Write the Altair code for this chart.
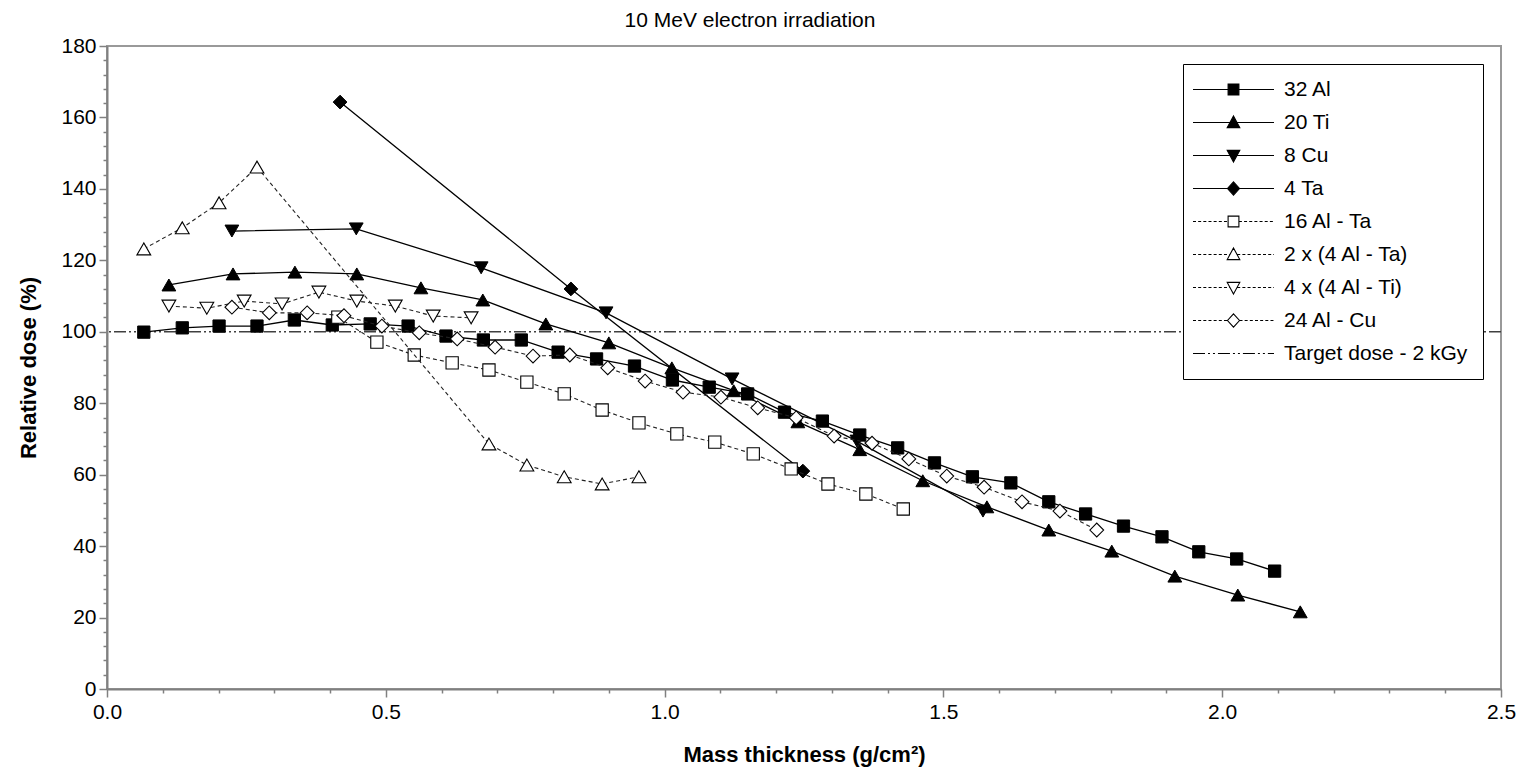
import altair as alt
import pandas as pd

# ---------------- data ----------------
names = ["32 Al", "20 Ti", "8 Cu", "4 Ta", "16 Al - Ta",
         "2 x (4 Al - Ta)", "4 x (4 Al - Ti)", "24 Al - Cu"]
target_label = "Target dose - 2 kGy"
target_dose = [100]

al32_x = [0.066, 0.135, 0.201, 0.269, 0.336, 0.404, 0.472, 0.540, 0.608, 0.675,
          0.743, 0.809, 0.878, 0.946, 1.014, 1.080, 1.149, 1.215, 1.283, 1.350,
          1.418, 1.484, 1.552, 1.621, 1.689, 1.755, 1.823, 1.892, 1.958, 2.026, 2.094]
al32_y = [99.9, 101.1, 101.6, 101.6, 103.3, 101.9, 102.2, 101.6, 98.8, 97.7,
          97.7, 94.3, 92.4, 90.4, 86.5, 84.5, 82.6, 77.5, 75.0, 71.1,
          67.5, 63.3, 59.4, 57.7, 52.4, 49.0, 45.6, 42.6, 38.4, 36.4, 33.0]

ti20_x = [0.111, 0.226, 0.337, 0.448, 0.563, 0.674, 0.787, 0.900, 1.013, 1.124,
          1.239, 1.350, 1.463, 1.578, 1.689, 1.802, 1.915, 2.028, 2.140]
ti20_y = [113.1, 116.2, 116.7, 116.2, 112.3, 108.9, 102.2, 96.9, 89.9, 83.5,
          74.8, 67.0, 58.3, 51.0, 44.5, 38.6, 31.6, 26.3, 21.6]

cu8_x = [0.224, 0.447, 0.671, 0.895, 1.121, 1.345, 1.571]
cu8_y = [128.2, 128.8, 117.9, 105.3, 86.8, 69.4, 49.8]

ta4_x = [0.418, 0.832, 1.248]
ta4_y = [164.3, 112.0, 61.0]

alta16_x = [0.414, 0.484, 0.551, 0.619, 0.685, 0.753, 0.820, 0.888, 0.954, 1.022,
            1.090, 1.159, 1.227, 1.293, 1.361, 1.428]
alta16_y = [104.1, 97.1, 93.5, 91.3, 89.3, 85.9, 82.6, 78.1, 74.5, 71.4,
            69.1, 65.8, 61.6, 57.4, 54.6, 50.4]

alta2x4_x = [0.066, 0.135, 0.201, 0.269, 0.685, 0.753, 0.820, 0.888, 0.954]
alta2x4_y = [123.2, 129.1, 136.1, 146.1, 68.6, 62.7, 59.4, 57.4, 59.4]

alti4x4_x = [0.111, 0.179, 0.246, 0.314, 0.380, 0.448, 0.517, 0.585, 0.653]
alti4x4_y = [107.2, 106.6, 108.6, 107.8, 111.1, 108.6, 107.2, 104.4, 103.9]

alcu24_x = [0.224, 0.291, 0.359, 0.425, 0.493, 0.560, 0.628, 0.696, 0.764, 0.830,
            0.898, 0.965, 1.033, 1.101, 1.167, 1.236, 1.304, 1.372, 1.438, 1.506,
            1.573, 1.641, 1.709, 1.775]
alcu24_y = [106.9, 105.3, 105.3, 104.5, 101.6, 99.7, 98.0, 95.7, 93.2, 93.5,
            89.9, 86.2, 83.1, 81.7, 78.7, 75.9, 70.8, 68.8, 64.4, 59.6,
            56.5, 52.4, 49.8, 44.5]

series_xy = [(al32_x, al32_y), (ti20_x, ti20_y), (cu8_x, cu8_y), (ta4_x, ta4_y),
             (alta16_x, alta16_y), (alta2x4_x, alta2x4_y), (alti4x4_x, alti4x4_y),
             (alcu24_x, alcu24_y)]

rows = []
for name, (xs, ys) in zip(names, series_xy):
    for i, (xv, yv) in enumerate(zip(xs, ys)):
        rows.append({"series": name, "x": xv, "y": yv, "idx": i})
df = pd.DataFrame(rows)

# ---------------- styles ----------------
FONT = "Liberation Sans, Arial, Helvetica, sans-serif"
shapes = ["square", "triangle-up", "triangle-down", "diamond",
          "square", "triangle-up", "triangle-down", "diamond"]
filled = [True, True, True, True, False, False, False, False]
sizes = {"square": 150, "triangle-up": 190, "triangle-down": 190, "diamond": 190}

x_minor = [round(i * 0.1, 1) for i in range(0, 26)]
y_minor = list(range(0, 181, 4))

x_axis = alt.Axis(values=x_minor, title="Mass thickness (g/cm²)",
                  labelExpr="round(datum.value*10) % 5 == 0 ? format(datum.value, '.1f') : ''",
                  tickSize={"condition": {"test": "round(datum.value*10) % 5 == 0", "value": 8}, "value": 4},
                  labelPadding=4, titlePadding=22)
y_axis = alt.Axis(values=y_minor, title="Relative dose (%)",
                  labelExpr="datum.value % 20 == 0 ? datum.value : ''",
                  tickSize={"condition": {"test": "datum.value % 20 == 0", "value": 8}, "value": 4},
                  labelPadding=3, titlePadding=20)
x_scale = alt.Scale(domain=[0, 2.5], nice=False, zero=False)
y_scale = alt.Scale(domain=[0, 180], nice=False)

x_enc = alt.X("x:Q", scale=x_scale, axis=x_axis)
y_enc = alt.Y("y:Q", scale=y_scale, axis=y_axis)

# legend symbol paths (unit = sqrt(symbolSize)/2 px)
marker_paths = {
    "square": ("M-0.9,-0.9H0.9V0.9H-0.9Z", 0.9),
    "triangle-up": ("M0,-1.1L1.05,0.85H-1.05Z", 0.62),
    "triangle-down": ("M0,1.1L1.05,-0.85H-1.05Z", 0.62),
    "diamond": ("M0,-1.1L1,0L0,1.1L-1,0Z", 1.0),
}
L = 6.75


def dashed(a, b, dash=0.5, gap=0.36):
    out = []
    p = a
    while p < b:
        q = min(p + dash, b)
        out.append("M%.3f,0H%.3f" % (p, q))
        p = q + gap
    return "".join(out)


legend_paths = []
for shp, fl in zip(shapes, filled):
    mp, hw = marker_paths[shp]
    if fl:
        legend_paths.append("M-%.2f,0H%.2f" % (L, L) + mp)
    else:
        legend_paths.append(dashed(-L, -hw) + dashed(hw, L) + mp)

# dash-dot-dot line for the target legend entry
tp = []
p = -L
pattern = [2.0, 0.5, 0.33, 0.5, 0.33, 0.5]
k = 0
while p < L:
    seg = pattern[k % 6]
    if k % 2 == 0:
        tp.append("M%.3f,0H%.3f" % (p, min(p + seg, L)))
    p += seg
    k += 1
legend_paths.append("".join(tp))

legend_names = names + [target_label]
legend_fills = ["black" if f else "white" for f in filled] + ["white"]

leg = alt.Legend(title=None, orient="none", legendX=1076, legendY=18,
                 padding=15, symbolOffset=25, labelOffset=40, rowPadding=11,
                 symbolSize=144, symbolStrokeWidth=1.1, symbolStrokeColor="black",
                 labelFontSize=21, labelFont=FONT, labelColor="black", labelLimit=400,
                 strokeColor="black", fillColor="white")

layers = []
# target dose rule
layers.append(
    alt.Chart(pd.DataFrame({"y": target_dose}))
    .mark_rule(color="#404040", strokeWidth=1.4, strokeDash=[12, 3, 2, 3, 2, 3])
    .encode(y=y_enc)
)

for name, shp, fl in zip(names, shapes, filled):
    base = alt.Chart(df).transform_filter(alt.datum.series == name)
    if fl:
        line = base.mark_line(color="black", strokeWidth=1.3)
        pt = base.mark_point(shape=shp, filled=True, fill="black", stroke="black",
                             strokeWidth=1, size=sizes[shp], opacity=1)
    else:
        line = base.mark_line(color="#222222", strokeWidth=1.1, strokeDash=[4, 3])
        pt = base.mark_point(shape=shp, filled=True, fill="white", stroke="black",
                             strokeWidth=1.1, size=sizes[shp], opacity=1)
    layers.append(line.encode(x=x_enc, y=y_enc, order="idx:Q"))
    layers.append(pt.encode(x=x_enc, y=y_enc))

# legend-only layer (no rows drawn)
layers.append(
    alt.Chart(df).transform_filter("datum.x < 0")
    .mark_point(filled=True, strokeWidth=1.1, size=144, opacity=1)
    .encode(x=x_enc, y=y_enc,
            shape=alt.Shape("series:N", scale=alt.Scale(domain=legend_names, range=legend_paths), legend=leg),
            fill=alt.Fill("series:N", scale=alt.Scale(domain=legend_names, range=legend_fills), legend=leg),
            stroke=alt.Stroke("series:N", scale=alt.Scale(domain=legend_names, range=["black"] * 9), legend=leg))
)

chart = (
    alt.layer(*layers)
    .properties(
        width=1394, height=643,
        title=alt.TitleParams("10 MeV electron irradiation", fontSize=21, fontWeight="normal",
                              font=FONT, color="black", anchor="middle", dx=-54, offset=4),
        autosize=alt.AutoSizeParams(type="none"),
        padding={"left": 99, "top": 38, "right": 20, "bottom": 80},
        background="white",
    )
    .configure_view(stroke="#999999", strokeWidth=2)
    .configure_axis(labelFont=FONT, labelFontSize=21, labelColor="black",
                    domainColor="#808080", domainWidth=2, tickColor="#808080", tickWidth=1.5,
                    grid=False, titleFont=FONT, titleFontSize=22, titleFontWeight="bold",
                    titleColor="black", labelFlush=False, labelOverlap=False)
)

chart.save("out.html", embed_options={"renderer": "svg", "actions": False})
